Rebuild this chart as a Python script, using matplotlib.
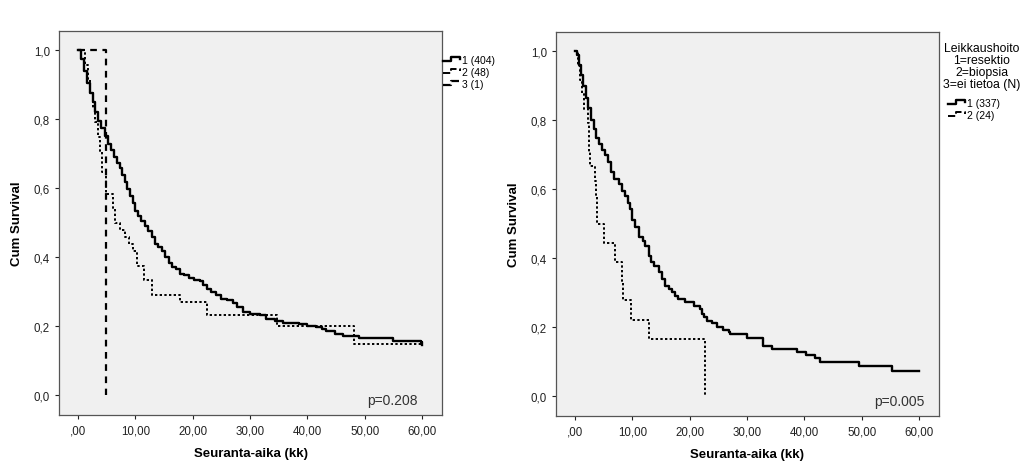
import matplotlib
matplotlib.use('Agg')
import matplotlib.pyplot as plt
from matplotlib.lines import Line2D
from matplotlib.legend_handler import HandlerBase

plt.rcParams['font.family'] = ['Liberation Sans', 'DejaVu Sans']

# --- data (months, cumulative survival) ---
# left panel
l1_t = [0, 0.5, 1.0, 1.5, 2.0, 2.5, 3.0, 3.5, 4.0, 4.6, 5.2, 5.8, 6.3, 6.8, 7.3, 7.7, 8.1,
        8.6, 9.1, 9.6, 10.0, 10.5, 11.0, 11.6, 12.2, 12.8, 13.4, 14.0, 14.6, 15.2, 15.8,
        16.4, 17.0, 17.7, 18.5, 19.3, 20.2, 21.2, 21.8, 22.4, 23.2, 24.1, 25.0, 26.0,
        27.0, 27.8, 28.7, 30.0, 31.7, 32.8, 34.3, 35.7, 38.6, 40.0, 41.5, 42.5, 43.3,
        44.8, 46.2, 49.1, 54.9, 59.8, 60.0]
l1_s = [1.0, .975, .94, .905, .875, .85, .82, .795, .775, .752, .728, .71, .69, .673, .66,
        .64, .617, .597, .578, .557, .535, .52, .505, .49, .475, .458, .44, .43, .418, .40,
        .385, .372, .365, .352, .348, .34, .335, .33, .32, .307, .30, .292, .28, .275, .268,
        .255, .242, .236, .232, .22, .215, .211, .206, .202, .198, .192, .186, .178, .172,
        .165, .158, .155, .147]
l2_t = [0, 1.2, 1.7, 2.1, 2.6, 3.0, 3.4, 3.8, 4.1, 4.8, 6.1, 6.5, 7.3, 8.1, 8.9, 9.6, 10.2,
        11.5, 12.9, 17.7, 22.5, 34.7, 48.1, 60.0]
l2_s = [1.0, .958, .917, .875, .833, .792, .75, .708, .646, .583, .542, .50, .479, .458,
        .438, .417, .375, .333, .292, .271, .233, .20, .15, .15]
l3_t = [0, 4.9]
l3_s = [1.0, 0.0]
left_labels = ['1 (404)', '2 (48)', '3 (1)']
left_p = 'p=0.208'

# right panel
r1_t = [0, 0.3, 0.7, 1.0, 1.4, 1.8, 2.2, 2.7, 3.2, 3.7, 4.2, 4.7, 5.2, 5.8, 6.3, 6.7, 7.6,
        8.2, 8.7, 9.2, 9.6, 10.0, 10.4, 11.1, 11.8, 12.2, 12.8, 13.2, 13.7, 14.6, 15.2,
        15.7, 16.4, 16.9, 17.5, 18.0, 19.2, 20.7, 21.8, 22.2, 22.5, 23.0, 23.9, 24.7,
        25.8, 26.8, 27.0, 30.0, 32.7, 34.3, 38.7, 40.3, 41.9, 42.8, 49.5, 55.3, 60.0]
r1_s = [1.0, .99, .96, .93, .90, .865, .835, .80, .775, .75, .73, .715, .70, .678, .65, .63,
        .615, .595, .58, .56, .543, .51, .49, .461, .45, .437, .408, .39, .379, .359, .34,
        .32, .31, .303, .29, .282, .272, .263, .253, .24, .229, .219, .214, .20, .193, .186,
        .181, .168, .147, .137, .128, .12, .11, .10, .088, .074, .074]
r2_t = [0, 0.5, 0.9, 1.2, 1.5, 2.2, 2.35, 2.45, 2.6, 3.4, 3.6, 3.8, 5.1, 6.9, 8.1, 8.3,
        9.7, 12.9, 22.7]
r2_s = [1.0, .958, .917, .875, .833, .792, .75, .708, .667, .625, .583, .50, .444, .389,
        .333, .278, .222, .167, 0.0]
right_labels = ['1 (337)', '2 (24)']
right_title = 'Leikkaushoito\n1=resektio\n2=biopsia\n3=ei tietoa (N)'
right_p = 'p=0.005'

x_ticks = [0, 10, 20, 30, 40, 50, 60]
x_ticklabels = [',00', '10,00', '20,00', '30,00', '40,00', '50,00', '60,00']
y_ticks = [0.0, 0.2, 0.4, 0.6, 0.8, 1.0]
y_ticklabels = ['0,0', '0,2', '0,4', '0,6', '0,8', '1,0']

styles = [dict(color='black', lw=1.7, ls='-'),
          dict(color='black', lw=1.4, ls=(0, (1.2, 1.2))),
          dict(color='black', lw=1.6, ls=(0, (3, 2.5)))]


class StepHandler(HandlerBase):
    # little step-shaped legend glyph like SPSS draws
    def create_artists(self, legend, orig, xd, yd, width, height, fontsize, trans):
        xs = [-xd, -xd + 0.45 * width, -xd + 0.45 * width, -xd + 0.92 * width, -xd + 0.92 * width]
        ys = [-yd + 0.25 * height, -yd + 0.25 * height, -yd + 0.8 * height,
              -yd + 0.8 * height, -yd + 0.55 * height]
        ln = Line2D(xs, ys, color=orig.get_color(), lw=orig.get_linewidth(),
                    linestyle=orig.get_linestyle())
        ln.set_transform(trans)
        return [ln]


fig = plt.figure(figsize=(10.24, 4.64), dpi=100)
ax1 = fig.add_axes([59 / 1024, 48 / 464, 383 / 1024, 384 / 464])
ax2 = fig.add_axes([556 / 1024, 47 / 464, 383 / 1024, 384 / 464])


def setup(ax, ptext, px):
    ax.set_facecolor('#f0f0f0')
    ax.set_xlim(-3.35, 63.5)
    ax.set_ylim(-0.057, 1.056)
    ax.set_xticks(x_ticks)
    ax.set_xticklabels(x_ticklabels)
    ax.set_yticks(y_ticks)
    ax.set_yticklabels(y_ticklabels)
    ax.tick_params(labelsize=8.3, length=3, width=0.8, colors='#222222', direction='out')
    for s in ax.spines.values():
        s.set_color('#555555')
        s.set_linewidth(0.9)
    ax.set_xlabel('Seuranta-aika (kk)', fontsize=9.5, fontweight='bold', labelpad=8)
    ax.set_ylabel('Cum Survival', fontsize=9.5, fontweight='bold', labelpad=8)
    ax.text(px, 0.039, ptext, transform=ax.transAxes, ha='right', va='center',
            fontsize=10, color='#333333')


l_lines = []
for (t, s), st in zip([(l1_t, l1_s), (l2_t, l2_s), (l3_t, l3_s)], styles):
    ln, = ax1.plot(t, s, drawstyle='steps-post', **st)
    l_lines.append(ln)
setup(ax1, left_p, 0.937)

r_lines = []
for (t, s), st in zip([(r1_t, r1_s), (r2_t, r2_s)], styles):
    ln, = ax2.plot(t, s, drawstyle='steps-post', **st)
    r_lines.append(ln)
setup(ax2, right_p, 0.961)

fig.legend(l_lines, left_labels, loc='upper left', bbox_to_anchor=(443 / 1024, 1 - 56 / 464),
           frameon=False, fontsize=7.5, handlelength=1.8, handletextpad=0.05,
           labelspacing=0.2, borderpad=0, borderaxespad=0,
           handler_map={Line2D: StepHandler()})

fig.text(982 / 1024, 1 - 43 / 464, right_title, ha='center', va='top', fontsize=8.8,
         linespacing=1.0)
fig.legend(r_lines, right_labels, loc='upper left', bbox_to_anchor=(948 / 1024, 1 - 99 / 464),
           frameon=False, fontsize=7.5, handlelength=1.8, handletextpad=0.05,
           labelspacing=0.2, borderpad=0, borderaxespad=0,
           handler_map={Line2D: StepHandler()})

fig.savefig('out.png', dpi=100)
